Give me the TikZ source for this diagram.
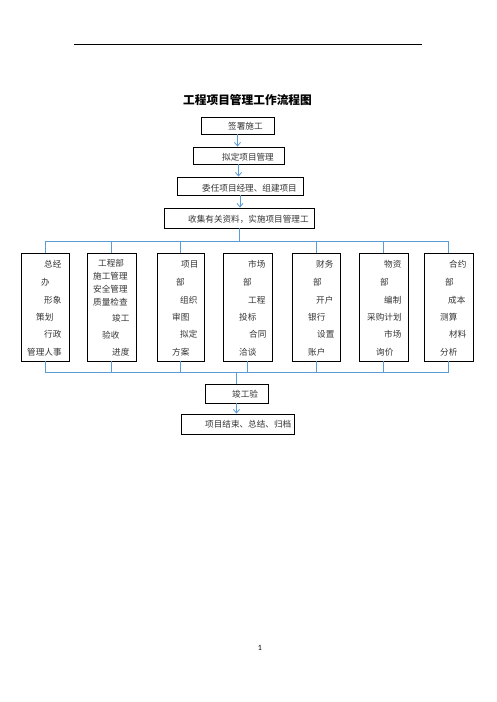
\documentclass[tikz,border=0pt]{standalone}
\usepackage{fontspec}
\setmainfont{Noto Sans CJK SC}
\newfontfamily\latinfont{Carlito}
\usetikzlibrary{arrows.meta}
\definecolor{connblue}{HTML}{5B9BD5}
\tikzset{
  box/.style={draw=black, line width=0.9pt, rectangle, inner sep=0pt},
  lbl/.style={inner sep=0pt, anchor=west, font=\fontsize{8.6}{10}\selectfont, text=black!80},
  conn/.style={draw=connblue, line width=0.8pt},
  arr/.style={conn, -{Straight Barb[length=3.5pt,width=6pt]}}
}
\begin{document}
\begin{tikzpicture}[x=1pt,y=-1pt]
\useasboundingbox (0,0) rectangle (496,702);
% header rule
\coordinate (hl) at (74,44);
\coordinate (hr) at (422,44);
\draw[line width=0.9pt] (hl) -- (hr);
% title
\node[inner sep=0pt, font=\fontsize{11.7}{13}\selectfont\bfseries] (title) at (247.5,100) {工程项目管理工作流程图};
% top chain boxes
\node[box, minimum width=73pt, minimum height=17pt] (sign) at (237.5,125.5) {};
\node[box, minimum width=91pt, minimum height=17pt] (draft) at (238.5,155.5) {};
\node[box, minimum width=126pt, minimum height=18pt] (appoint) at (240,186) {};
\node[box, minimum width=150pt, minimum height=20pt] (collect) at (239,218) {};
\node[lbl] (tsign) at (228,126) {签署施工};
\node[lbl] (tdraft) at (222,157) {拟定项目管理};
\node[lbl] (tappoint) at (202,188) {委任项目经理、组建项目};
\node[lbl] (tcollect) at (188,219) {收集有关资料，实施项目管理工};
\draw[arr] (sign.south) -- (sign.south |- draft.north);
\draw[arr] (draft.south) -- (draft.south |- appoint.north);
\draw[arr] (appoint.south) -- (appoint.south |- collect.north);
% department boxes
\foreach \n/\cx/\w in {b1/45/48, b2/111.5/49, b3/180.5/47, b4/247.5/49, b5/316/48, b6/383.5/49, b7/448.5/49}
  \node[box, minimum width=\w pt, minimum height=108pt] (\n) at (\cx,307) {};
% department texts
\foreach \x/\y/\t [count=\i] in {
  44/264/总经, 41/282/办, 44/300/形象, 36/317/策划, 44/334/行政, 27/352/管理人事,
  98/263/工程部, 93/276/施工管理, 93/289/安全管理, 93/302/质量检查, 112/318/竣工, 102/335/验收, 112/352/进度,
  181/264/项目, 176/282/部, 180/300/组织, 172/317/审图, 180/334/拟定, 172/352/方案,
  248/264/市场, 243/282/部, 248/300/工程, 239/317/投标, 249/334/合同, 239/352/洽谈,
  316/264/财务, 313/282/部, 316/300/开户, 308/317/银行, 317/334/设置, 308/352/账户,
  384/264/物资, 380/282/部, 384/300/编制, 367/317/采购计划, 384/334/市场, 376/352/询价,
  449/264/合约, 445/282/部, 448/300/成本, 440/317/测算, 449/334/材料, 440/352/分析}
  \node[lbl] (d\i) at (\x,\y) {\t};
% top bus
\coordinate (busTL) at (45,241);
\coordinate (busTR) at (448.5,241);
\draw[conn] (busTL) -- (busTR);
\draw[conn] (collect.south) -- (collect.south |- busTL);
\foreach \b in {b1,b2,b3,b5,b6,b7}
  \draw[conn] (\b.north |- busTL) -- (\b.north);
% bottom bus
\coordinate (busBL) at (45,372);
\coordinate (busBR) at (448.5,372);
\draw[conn] (busBL) -- (busBR);
\foreach \b in {b1,b2,b3,b4,b5,b6,b7}
  \draw[conn] (\b.south) -- (\b.south |- busBL);
% final boxes
\node[box, minimum width=63pt, minimum height=19pt] (jg) at (236.5,393.5) {};
\node[box, minimum width=113pt, minimum height=20pt] (fin) at (237.5,424) {};
\node[lbl] (tjg) at (232,394) {竣工验};
\node[lbl] (tfin) at (205,424) {项目结束、总结、归档};
\draw[conn] (jg.north |- busBL) -- (jg.north);
\draw[arr] (jg.south) -- (jg.south |- fin.north);
% page number
\node[inner sep=0pt, font=\latinfont\fontsize{8}{9}\selectfont] (pg) at (260,648) {1};
\end{tikzpicture}
\end{document}
